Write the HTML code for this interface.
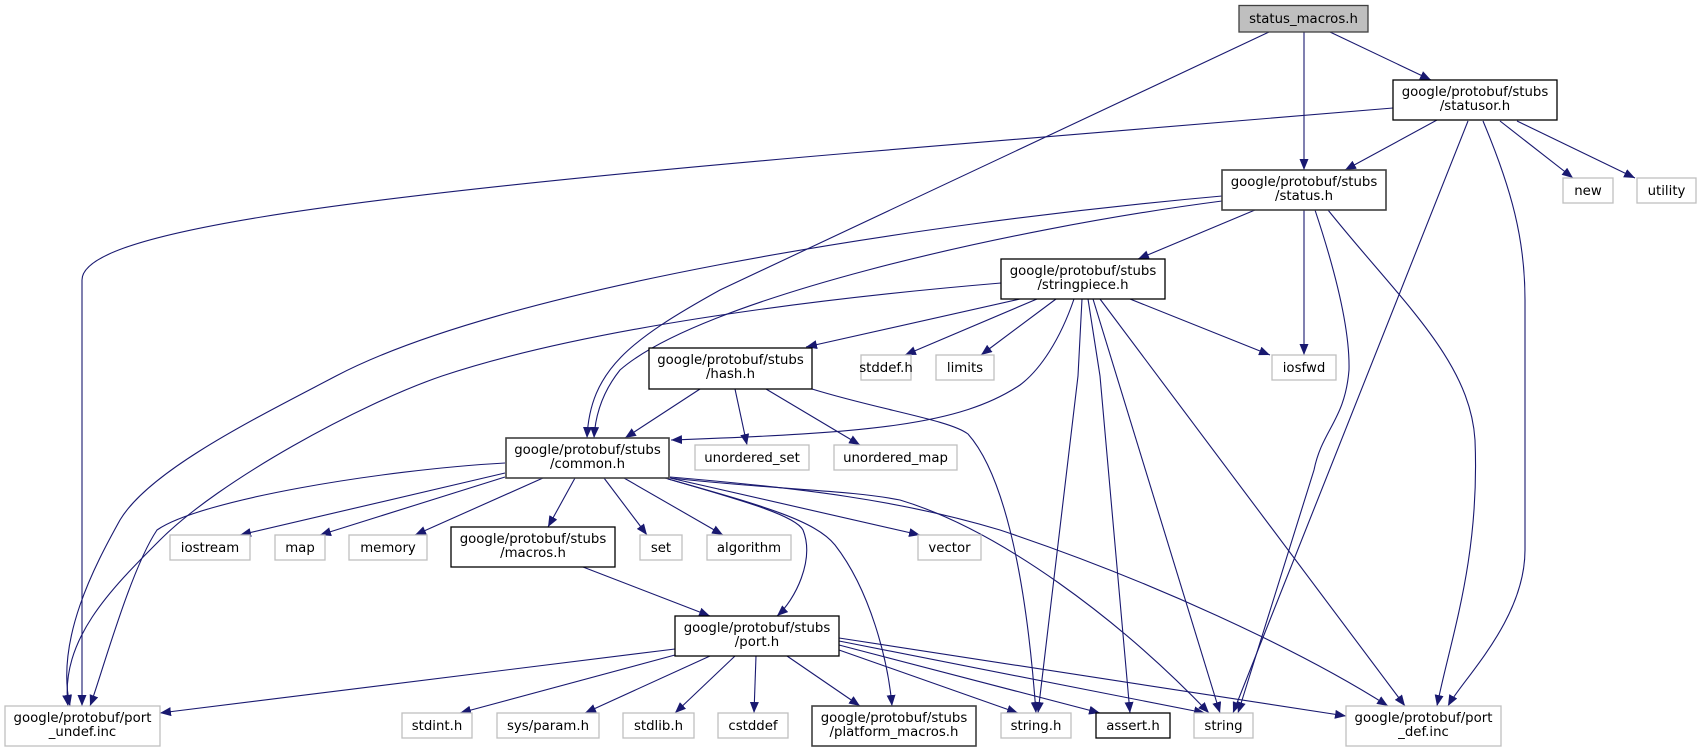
<!DOCTYPE html>
<html><head><meta charset="utf-8"><style>
html,body{margin:0;padding:0;background:#fff;}
svg{display:block;}
text{font-family:"DejaVu Sans","Liberation Sans",sans-serif;font-size:13.3px;fill:#000;text-anchor:middle;}
.e{fill:none;stroke:#191970;stroke-width:1.1;}
.g{fill:#fff;stroke:#bfbfbf;stroke-width:1.3;}
.b{fill:#fff;stroke:#000;stroke-width:1.3;}
.d{fill:#fff;stroke:#404040;stroke-width:1.6;}
</style></head><body>
<svg width="1702" height="752" viewBox="0 0 1702 752" xmlns="http://www.w3.org/2000/svg">
<defs>
<marker id="a" viewBox="0 0 11 9" refX="11" refY="4.5" markerWidth="11" markerHeight="9" markerUnits="userSpaceOnUse" orient="auto">
<path d="M0,0 L11,4.5 L0,9 z" fill="#191970"/>
</marker>
</defs>
<g marker-end="url(#a)">
<!-- status_macros -->
<path class="e" d="M1269,32 L720,290 C630,340 590,370 587,438"/>
<path class="e" d="M1304,32 L1304,170"/>
<path class="e" d="M1330,32 L1431,80"/>
<!-- statusor -->
<path class="e" d="M1393,108 L851,153 C300,200 82,235 82,280 L82,706"/>
<path class="e" d="M1437,120 L1345,170"/>
<path class="e" d="M1468,121 L1233,713"/>
<path class="e" d="M1483,121 C1512,190 1525,240 1525,300 L1525,550 C1525,620 1462,680 1448,706"/>
<path class="e" d="M1500,121 L1573,178"/>
<path class="e" d="M1517,121 L1635,178"/>
<!-- status.h -->
<path class="e" d="M1222,196 C900,225 500,290 336,376 C256,418 150,470 120,520 C95,565 55,640 70,706"/>
<path class="e" d="M1222,201 C1000,230 700,300 620,370 C600,395 595,420 594,438"/>
<path class="e" d="M1255,210 L1138,259"/>
<path class="e" d="M1304,210 L1304,355"/>
<path class="e" d="M1315,210 C1335,270 1350,330 1349,370 C1345,420 1322,430 1314,470 L1238,713"/>
<path class="e" d="M1328,210 C1400,300 1470,360 1475,440 C1480,560 1450,640 1437,706"/>
<!-- stringpiece -->
<path class="e" d="M1001,283 C800,300 580,330 442,376 C360,404 220,480 160,540 C110,590 60,640 68,706"/>
<path class="e" d="M1020,299 L806,347"/>
<path class="e" d="M1037,299 L905,355"/>
<path class="e" d="M1056,299 L981,355"/>
<path class="e" d="M1074,299 C1060,340 1040,370 1020,385 C960,425 870,433 671,440"/>
<path class="e" d="M1082,299 L1078,376 L1038,713"/>
<path class="e" d="M1088,299 L1100,376 L1130,713"/>
<path class="e" d="M1093,299 L1220,713"/>
<path class="e" d="M1100,299 L1405,706"/>
<path class="e" d="M1130,299 L1270,355"/>
<!-- hash -->
<path class="e" d="M700,389 L625,438"/>
<path class="e" d="M735,389 L747,445"/>
<path class="e" d="M766,389 L860,445"/>
<path class="e" d="M812,389 C880,410 950,420 968,434 C1000,470 1025,560 1036,713"/>
<!-- common -->
<path class="e" d="M505,463 C380,470 200,500 157,530 C130,570 100,680 90,706"/>
<path class="e" d="M505,473 L240,535"/>
<path class="e" d="M505,477 L320,535"/>
<path class="e" d="M543,478 L415,535"/>
<path class="e" d="M575,478 L548,527"/>
<path class="e" d="M604,478 L647,535"/>
<path class="e" d="M624,478 L723,535"/>
<path class="e" d="M670,478 L920,535"/>
<path class="e" d="M665,478 C740,500 795,515 803,530 C815,560 795,600 777,616"/>
<path class="e" d="M668,479 C760,505 815,520 835,545 C870,590 888,660 892,706"/>
<path class="e" d="M670,478 C780,490 850,490 900,500 C1000,530 1120,620 1209,713"/>
<path class="e" d="M670,477 C800,488 900,500 1000,530 C1150,580 1300,650 1388,706"/>
<!-- macros -->
<path class="e" d="M583,567 L710,616"/>
<!-- port -->
<path class="e" d="M675,649 L160,713"/>
<path class="e" d="M675,655 L460,713"/>
<path class="e" d="M710,656 L585,713"/>
<path class="e" d="M735,656 L675,713"/>
<path class="e" d="M756,656 L754,713"/>
<path class="e" d="M787,656 L860,706"/>
<path class="e" d="M839,650 L1018,713"/>
<path class="e" d="M839,645 L1100,713"/>
<path class="e" d="M839,641 L1205,713"/>
<path class="e" d="M839,638 L1346,716"/>
</g>

<!-- nodes -->
<rect x="1239" y="5.5" width="129" height="26.5" fill="#bfbfbf" stroke="#404040" stroke-width="1.3"/>
<text x="1303.5" y="23">status_macros.h</text>

<rect class="b" x="1393" y="80" width="164" height="40"/>
<text x="1475" y="96">google/protobuf/stubs</text><text x="1475" y="110">/statusor.h</text>

<rect class="d" x="1222" y="170" width="164" height="40"/>
<text x="1304" y="186">google/protobuf/stubs</text><text x="1304" y="200">/status.h</text>

<rect class="g" x="1563" y="178" width="50" height="25"/><text x="1588" y="195">new</text>
<rect class="g" x="1637" y="178" width="59" height="25"/><text x="1666.5" y="195">utility</text>

<rect class="b" x="1001" y="259" width="164" height="40"/>
<text x="1083" y="275">google/protobuf/stubs</text><text x="1083" y="289">/stringpiece.h</text>

<rect class="b" x="649" y="348" width="163" height="41"/>
<text x="730.5" y="364">google/protobuf/stubs</text><text x="730.5" y="378">/hash.h</text>

<rect class="g" x="861" y="355" width="50" height="25"/><text x="886" y="372">stddef.h</text>
<rect class="g" x="936" y="355" width="58" height="25"/><text x="965" y="372">limits</text>
<rect class="g" x="1272" y="355" width="64" height="25"/><text x="1304" y="372">iosfwd</text>

<rect class="d" x="506" y="438" width="163" height="40"/>
<text x="587.5" y="454">google/protobuf/stubs</text><text x="587.5" y="468">/common.h</text>

<rect class="g" x="695" y="445" width="114" height="25"/><text x="752" y="462">unordered_set</text>
<rect class="g" x="834" y="445" width="123" height="25"/><text x="895.5" y="462">unordered_map</text>

<rect class="g" x="170" y="535" width="80" height="25"/><text x="210" y="552">iostream</text>
<rect class="g" x="275" y="535" width="50" height="25"/><text x="300" y="552">map</text>
<rect class="g" x="349" y="535" width="78" height="25"/><text x="388" y="552">memory</text>
<rect class="b" x="451" y="527" width="164" height="40"/>
<text x="533" y="543">google/protobuf/stubs</text><text x="533" y="557">/macros.h</text>
<rect class="g" x="640" y="535" width="42" height="25"/><text x="661" y="552">set</text>
<rect class="g" x="707" y="535" width="84" height="25"/><text x="749" y="552">algorithm</text>
<rect class="g" x="918" y="535" width="63" height="25"/><text x="949.5" y="552">vector</text>

<rect class="b" x="675" y="616" width="164" height="40"/>
<text x="757" y="632">google/protobuf/stubs</text><text x="757" y="646">/port.h</text>

<rect class="g" x="5" y="706" width="155" height="40"/>
<text x="82.5" y="722">google/protobuf/port</text><text x="82.5" y="736">_undef.inc</text>
<rect class="g" x="402" y="713" width="70" height="25"/><text x="437" y="730">stdint.h</text>
<rect class="g" x="497" y="713" width="102" height="25"/><text x="548" y="730">sys/param.h</text>
<rect class="g" x="623" y="713" width="71" height="25"/><text x="658.5" y="730">stdlib.h</text>
<rect class="g" x="718" y="713" width="70" height="25"/><text x="753" y="730">cstddef</text>
<rect class="d" x="812" y="706" width="164" height="40"/>
<text x="894" y="722">google/protobuf/stubs</text><text x="894" y="736">/platform_macros.h</text>
<rect class="g" x="1001" y="713" width="70" height="25"/><text x="1036" y="730">string.h</text>
<rect class="b" x="1096" y="713" width="74" height="25"/><text x="1133" y="730">assert.h</text>
<rect class="g" x="1194" y="713" width="59" height="25"/><text x="1223.5" y="730">string</text>
<rect class="g" x="1346" y="706" width="155" height="40"/>
<text x="1423.5" y="722">google/protobuf/port</text><text x="1423.5" y="736">_def.inc</text>
</svg>
</body></html>
